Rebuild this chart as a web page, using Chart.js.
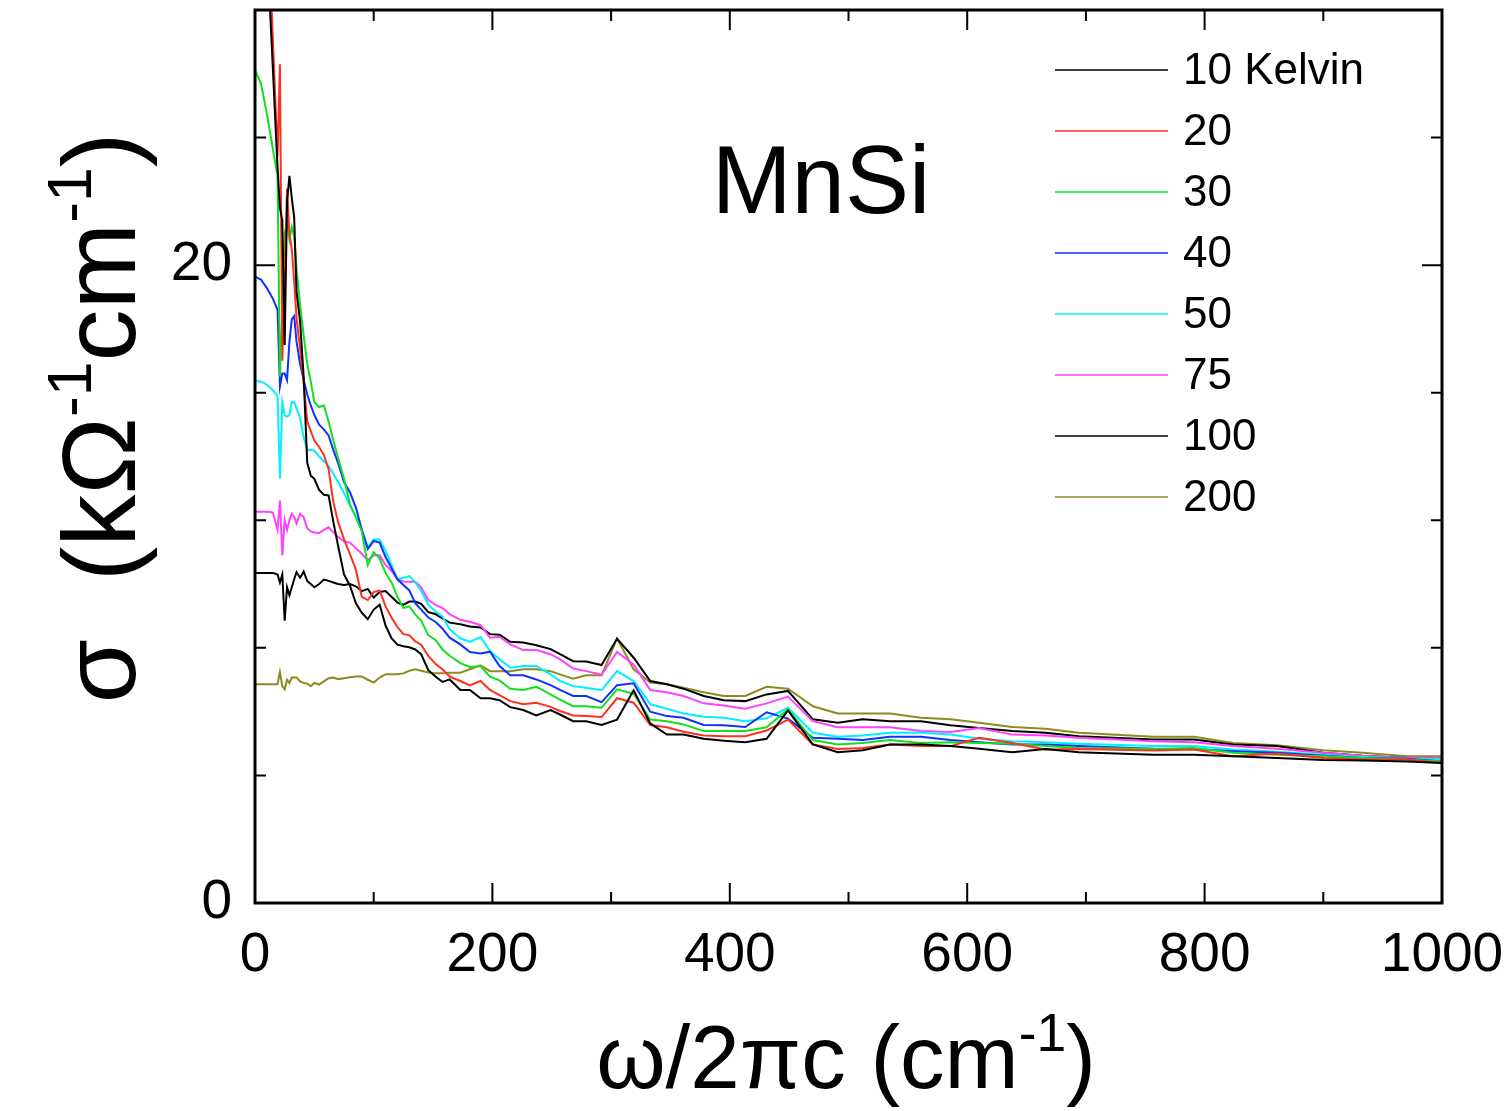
<!DOCTYPE html>
<html>
<head>
<meta charset="utf-8">
<script src="https://cdn.jsdelivr.net/npm/chart.js@4.4.1/dist/chart.umd.min.js"></script>
<style>
  body { margin: 0; background: #fff; }
  canvas { display: block; }
</style>
</head>
<body>
<canvas id="sigma" width="1510" height="1111"></canvas>
<script>
// frequency grid, cm-1 (dense at the far-IR end where the spikes are)
var wavenumber = [0, 5, 10, 15, 19, 21, 23, 25, 27, 29, 31, 33, 35, 38, 41, 44, 47, 50, 54, 58,
    62, 66, 70, 75, 80, 85, 90, 95, 100, 105, 110, 115, 120, 125, 130, 135, 140, 146, 152, 158,
    164, 173, 181, 190, 198, 206, 215, 226, 237, 249, 257, 268, 279, 292, 305, 319, 333, 347, 361, 378,
    395, 413, 431, 449, 470, 491, 512, 535, 561, 586, 610, 638, 666, 694, 757, 791, 824, 861, 900, 933,
    971, 1000];

// sigma in kOhm-1 cm-1, one array per temperature
var k10 = [42, 36, 30.1, 26.2, 23.05, 21.8, 21.4, 17.5, 22.0, 22.8, 22.1, 21.5, 19.17, 18.23, 16.5, 13.8, 13.4, 13.3, 12.95, 12.8,
    12.78, 11.95, 11.2, 10.3, 9.95, 9.4, 9.1, 8.9, 9.2, 9.35, 8.7, 8.3, 8.1, 8.05, 8.02, 7.95, 7.8, 7.3, 7.1, 6.93,
    7.01, 6.68, 6.68, 6.42, 6.42, 6.36, 6.14, 6.05, 5.88, 6.05, 5.91, 5.70, 5.70, 5.58, 5.75, 6.67, 5.63, 5.28, 5.28, 5.15,
    5.09, 5.04, 5.15, 6.04, 4.97, 4.73, 4.79, 4.97, 4.97, 4.92, 4.84, 4.73, 4.83, 4.73, 4.65, 4.65, 4.60, 4.55, 4.48, 4.47,
    4.44, 4.39];
var k20 = [38, 35, 31.6, 27.15, 23.4, 26.3, 17.0, 19.5, 22.4, 21.0, 20.5, 19.5, 18.33, 17.4, 16.3, 15.1, 14.8, 14.5, 14.3, 14.05,
    13.6, 12.57, 11.95, 11.4, 10.94, 10.45, 9.6, 9.5, 9.75, 9.8, 9.3, 8.95, 8.65, 8.43, 8.4, 8.2, 8.1, 7.75, 7.5, 7.33,
    7.10, 6.96, 6.82, 6.96, 6.68, 6.52, 6.33, 6.23, 6.28, 6.15, 6.02, 5.88, 5.86, 5.83, 6.42, 6.28, 5.58, 5.51, 5.37, 5.25,
    5.23, 5.23, 5.41, 5.75, 4.97, 4.83, 4.86, 4.97, 4.92, 4.92, 5.18, 5.02, 4.81, 4.83, 4.78, 4.81, 4.60, 4.69, 4.55, 4.50,
    4.50, 4.39];
var k30 = [26.11, 25.7, 24.75, 23.65, 22.8, 16.5, 18.5, 21.0, 21.3, 20.8, 21.2, 20.9, 19.9, 18.75, 17.8, 16.9, 16.35, 15.7, 15.55, 15.6,
    15.1, 14.5, 13.95, 13.3, 12.5, 12.1, 11.65, 10.6, 11.0, 10.8, 10.35, 10.05, 9.6, 9.25, 9.3, 9.05, 8.85, 8.4, 8.25, 7.95,
    7.75, 7.52, 7.40, 7.43, 7.10, 6.98, 6.72, 6.68, 6.78, 6.54, 6.38, 6.17, 6.17, 6.12, 6.70, 6.56, 5.75, 5.70, 5.60, 5.39,
    5.39, 5.39, 5.51, 6.07, 5.11, 4.97, 5.02, 5.11, 5.02, 5.04, 5.02, 4.99, 4.92, 4.86, 4.84, 4.86, 4.71, 4.65, 4.60, 4.55,
    4.50, 4.44];
var k40 = [19.64, 19.55, 19.28, 18.95, 18.6, 16.2, 16.6, 16.6, 16.4, 17.6, 18.3, 18.4, 17.6, 16.9, 16.4, 15.95, 15.6, 15.3, 15.0, 14.85,
    14.66, 14.2, 13.8, 13.2, 12.88, 12.4, 11.7, 11.1, 11.35, 11.3, 10.85, 10.5, 10.15, 9.97, 9.8, 9.4, 9.2, 8.95, 8.82, 8.6,
    8.32, 8.11, 7.87, 7.82, 7.88, 7.43, 7.14, 7.14, 7.01, 6.83, 6.68, 6.49, 6.49, 6.30, 6.83, 6.89, 6.00, 5.86, 5.81, 5.58,
    5.57, 5.52, 5.98, 5.78, 5.18, 5.15, 5.11, 5.21, 5.21, 5.11, 5.04, 4.97, 4.97, 4.92, 4.84, 4.83, 4.76, 4.71, 4.62, 4.55,
    4.52, 4.44];
var k50 = [16.37, 16.35, 16.25, 16.08, 15.9, 13.3, 15.7, 15.29, 15.25, 15.3, 15.71, 15.7, 15.5, 15.2, 14.6, 14.2, 14.2, 14.19, 14.0, 13.85,
    13.7, 13.45, 13.2, 12.85, 12.46, 12.1, 11.7, 11.15, 11.4, 11.4, 11.05, 10.6, 10.15, 10.2, 10.25, 10.05, 9.79, 9.35, 9.15, 8.98,
    8.58, 8.30, 8.19, 8.34, 7.90, 7.64, 7.38, 7.43, 7.43, 7.17, 6.96, 6.80, 6.75, 6.67, 7.27, 6.96, 6.23, 6.09, 5.94, 5.84,
    5.81, 5.70, 5.79, 6.12, 5.34, 5.21, 5.25, 5.34, 5.34, 5.28, 5.15, 5.07, 5.04, 4.99, 4.92, 4.92, 4.81, 4.74, 4.65, 4.58,
    4.52, 4.50];
var k75 = [12.27, 12.27, 12.27, 12.25, 11.7, 12.62, 10.9, 12.0, 11.7, 12.0, 12.2, 12.1, 11.9, 12.2, 12.1, 11.75, 11.65, 11.62, 11.6, 11.7,
    11.78, 11.62, 11.48, 11.33, 11.3, 11.12, 10.95, 10.75, 10.9, 10.9, 10.6, 10.42, 10.15, 10.08, 10.07, 10.07, 9.9, 9.5, 9.35, 9.25,
    9.06, 8.88, 8.82, 8.71, 8.32, 8.35, 8.11, 7.93, 7.93, 7.80, 7.64, 7.35, 7.27, 7.16, 7.87, 7.48, 6.68, 6.61, 6.49, 6.26,
    6.19, 6.09, 6.26, 6.47, 5.70, 5.51, 5.51, 5.51, 5.39, 5.36, 5.49, 5.28, 5.25, 5.18, 5.07, 5.04, 4.92, 4.84, 4.71, 4.62,
    4.55, 4.55];
var k100 = [10.35, 10.35, 10.35, 10.35, 10.3, 10.05, 10.3, 8.85, 9.9, 9.65, 9.9, 10.15, 10.37, 10.2, 10.39, 10.1, 10.0, 9.9, 10.0, 10.14,
    10.1, 10.05, 10.0, 9.97, 10.0, 9.93, 9.78, 9.85, 9.58, 9.75, 9.78, 9.6, 9.42, 9.35, 9.45, 9.45, 9.38, 9.12, 9.06, 8.92,
    8.79, 8.74, 8.67, 8.64, 8.43, 8.41, 8.19, 8.17, 8.08, 7.96, 7.80, 7.58, 7.57, 7.46, 8.29, 7.69, 6.96, 6.86, 6.72, 6.49,
    6.36, 6.33, 6.54, 6.65, 5.76, 5.65, 5.76, 5.70, 5.70, 5.57, 5.49, 5.39, 5.34, 5.23, 5.13, 5.13, 4.97, 4.92, 4.71, 4.62,
    4.55, 4.50];
var k200 = [6.86, 6.86, 6.86, 6.86, 6.86, 7.24, 6.8, 6.7, 7.0, 6.9, 7.07, 7.07, 7.07, 6.95, 6.9, 6.88, 6.8, 6.9, 6.85, 6.95,
    7.05, 7.07, 7.02, 7.05, 7.08, 7.1, 7.1, 7.0, 6.91, 7.07, 7.17, 7.17, 7.17, 7.2, 7.28, 7.33, 7.28, 7.23, 7.2, 7.2,
    7.22, 7.22, 7.33, 7.45, 7.27, 7.27, 7.27, 7.33, 7.33, 7.27, 7.17, 7.03, 7.14, 7.14, 8.29, 7.33, 6.91, 6.86, 6.75, 6.61,
    6.49, 6.49, 6.78, 6.72, 6.17, 5.94, 5.94, 5.94, 5.81, 5.76, 5.65, 5.52, 5.46, 5.34, 5.21, 5.21, 5.02, 4.95, 4.79, 4.71,
    4.60, 4.60];

var labels = ['10 Kelvin', '20', '30', '40', '50', '75', '100', '200'];
var series = [k10, k20, k30, k40, k50, k75, k100, k200];
var colors = ['#000000', '#ff3020', '#10e020', '#1030ff', '#00f0ff', '#ff40ff', '#000000', '#8c8c1e'];

var FONT = '"Liberation Sans", Arial, sans-serif';

// draws text runs, some as superscripts, centred on (cx, baseline)
function drawRuns(ctx, runs, cx, base, size) {
    var total = 0;
    runs.forEach(function (r) {
        ctx.font = (r.sup ? size * 0.6 : size) + 'px ' + FONT;
        r.w = ctx.measureText(r.t).width;
        total += r.w;
    });
    var x = cx - total / 2;
    ctx.textAlign = 'left';
    ctx.textBaseline = 'alphabetic';
    runs.forEach(function (r) {
        ctx.font = (r.sup ? size * 0.6 : size) + 'px ' + FONT;
        ctx.fillText(r.t, x, r.sup ? base - size * 0.42 : base);
        x += r.w;
    });
}

var decor = {
    id: 'decor',
    afterDatasetsDraw: function (chart) {
        var ctx = chart.ctx, a = chart.chartArea;
        var xs = chart.scales.x, ys = chart.scales.y;
        ctx.save();
        ctx.strokeStyle = '#000';
        ctx.fillStyle = '#000';

        // inward ticks on all four sides
        ctx.lineWidth = 2;
        ctx.beginPath();
        xs.ticks.forEach(function (t) {
            var px = xs.getPixelForValue(t.value);
            var len = t.value % 200 === 0 ? 20 : 11;
            ctx.moveTo(px, a.bottom); ctx.lineTo(px, a.bottom - len);
            ctx.moveTo(px, a.top); ctx.lineTo(px, a.top + len);
        });
        ys.ticks.forEach(function (t) {
            var py = ys.getPixelForValue(t.value);
            var len = t.value % 20 === 0 ? 20 : 11;
            ctx.moveTo(a.left, py); ctx.lineTo(a.left + len, py);
            ctx.moveTo(a.right, py); ctx.lineTo(a.right - len, py);
        });
        ctx.stroke();

        ctx.lineWidth = 3;
        ctx.strokeRect(a.left, a.top, a.right - a.left, a.bottom - a.top);

        // legend inside the frame
        ctx.font = '44px ' + FONT;
        ctx.textAlign = 'left';
        ctx.textBaseline = 'middle';
        labels.forEach(function (lab, i) {
            var y = 70 + i * 61;
            ctx.strokeStyle = colors[i];
            ctx.lineWidth = 1.6;
            ctx.beginPath();
            ctx.moveTo(1055, y);
            ctx.lineTo(1168, y);
            ctx.stroke();
            ctx.fillText(lab, 1183, y + 2);
        });

        ctx.font = '96px ' + FONT;
        ctx.textAlign = 'center';
        ctx.textBaseline = 'alphabetic';
        ctx.fillText('MnSi', 821, 213);

        // axis titles
        drawRuns(ctx, [{t: '\u03c9/2\u03c0c (cm'}, {t: '-1', sup: true}, {t: ')'}], 846, 1088, 89);
        ctx.translate(135, 418);
        ctx.rotate(-Math.PI / 2);
        drawRuns(ctx, [{t: '\u03c3  (k\u03a9'}, {t: '-1', sup: true}, {t: 'cm'}, {t: '-1', sup: true}, {t: ')'}], 0, 0, 104);
        ctx.restore();
    }
};

// fixed frame position: no automatic room for overhanging tick labels
function fixX(s) { s.height = 208; s.paddingLeft = 0; s.paddingRight = 0; }
function fixY(s) { s.width = 255; s.paddingTop = 0; s.paddingBottom = 0; }

var ctx = document.getElementById('sigma').getContext('2d');
var chart = new Chart(ctx, {
    type: 'line',
    data: {
        labels: wavenumber,
        datasets: series.map(function (s, i) {
            return {
                label: labels[i],
                data: s.map(function (v, j) { return {x: wavenumber[j], y: v}; }),
                borderColor: colors[i],
                borderWidth: 2,
                pointRadius: 0,
                tension: 0,
                fill: false
            };
        })
    },
    options: {
        responsive: false,
        animation: false,
        devicePixelRatio: 1,
        layout: {padding: {top: 10, right: 68, left: 0, bottom: 0}},
        plugins: {legend: {display: false}, tooltip: {enabled: false}},
        scales: {
            x: {
                type: 'linear', min: 0, max: 1000,
                grid: {display: false, drawTicks: false},
                border: {display: false},
                ticks: {
                    stepSize: 100, autoSkip: false, maxRotation: 0, padding: 20,
                    color: '#000', font: {family: FONT, size: 55},
                    callback: function (v) { return v % 200 === 0 ? v : ''; }
                },
                afterFit: fixX
            },
            y: {
                min: 0, max: 28,
                grid: {display: false, drawTicks: false},
                border: {display: false},
                ticks: {
                    stepSize: 4, autoSkip: false, padding: 23,
                    color: '#000', font: {family: FONT, size: 55},
                    callback: function (v) { return v % 20 === 0 ? v : ''; }
                },
                afterFit: fixY
            }
        }
    },
    plugins: [decor]
});
</script>
</body>
</html>
